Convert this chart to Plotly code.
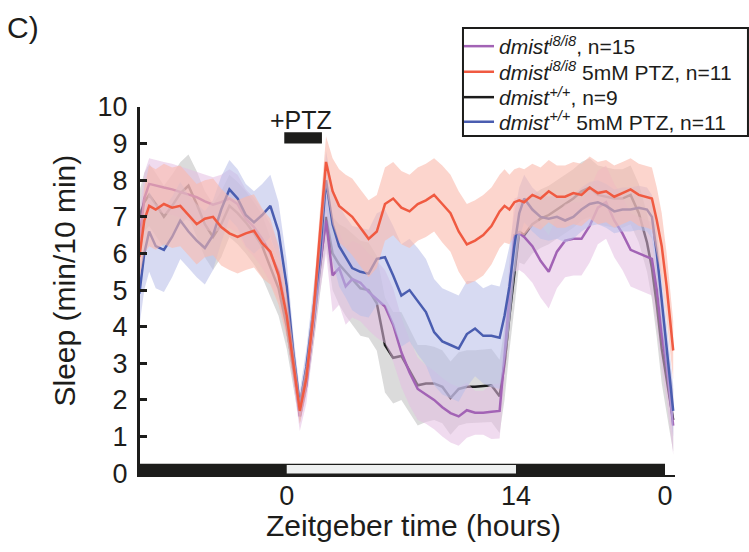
import plotly.graph_objects as go

# Zeitgeber time (hours) of each sample; negative values are the preceding night
hours = [
    -9.0, -8.7, -8.4, -8.0, -7.5, -7.0, -6.5, -6.0, -5.5, -5.0,
    -4.5, -4.0, -3.5, -3.0, -2.5, -2.0, -1.5, -1.0, -0.5, 0.0,
    0.4, 0.8, 1.2, 1.6, 2.0, 2.4, 2.8, 3.2, 3.6, 4.0,
    4.5, 5.0, 5.5, 6.0, 6.5, 7.0, 7.5, 8.0, 8.5, 9.0,
    9.5, 10.0, 10.5, 11.0, 11.5, 12.0, 12.5, 13.0, 13.3, 13.6,
    13.9, 14.2, 14.5, 15.0, 15.5, 16.0, 16.5, 17.0, 17.5, 18.0,
    18.5, 19.0, 19.5, 20.0, 20.5, 21.0, 21.5, 22.0, 22.3, 22.6,
    22.9, 23.2, 23.4, 23.6,
]

# Mean sleep (min/10 min) per genotype / treatment
sleep_mut = [
    6.3, 7.5, 7.9, 7.85, 7.8, 7.75, 7.68, 7.6, 7.54, 7.42,
    7.33, 7.4, 7.5, 7.35, 6.95, 6.72, 6.4, 6.0, 5.5, 4.4,
    2.9, 1.55, 2.4, 4.0, 5.6, 6.9, 5.4, 5.6, 5.1, 5.3,
    5.2, 4.95, 4.75, 4.55, 4.05, 3.3, 2.75, 2.3, 2.15, 2.0,
    1.8, 1.64, 1.55, 1.72, 1.65, 1.65, 1.68, 1.7, 3.2, 4.9,
    6.5, 6.55, 6.45, 6.2, 5.8, 5.5, 6.05, 6.35, 6.4, 6.4,
    6.75, 7.25, 7.4, 6.9, 6.55, 6.1, 6.0, 5.9, 5.85, 5.0,
    3.8, 2.9, 2.1, 1.3,
]
sleep_mut_ptz = [
    5.9, 6.9, 7.3, 7.2, 7.35, 7.25, 7.3, 7.05, 6.8, 6.95,
    7.0, 6.72, 6.55, 6.45, 6.55, 6.62, 6.28, 6.05, 5.4, 4.3,
    3.0, 1.7, 2.6, 4.2, 6.4, 8.5, 7.7, 7.3, 7.15, 7.0,
    6.7, 6.4, 6.6, 7.35, 7.5, 7.25, 7.15, 7.35, 7.45, 7.6,
    7.35, 7.1, 6.6, 6.25, 6.35, 6.5, 6.75, 7.15, 7.3, 7.2,
    7.4, 7.45, 7.4, 7.6, 7.5, 7.7, 7.55, 7.55, 7.65, 7.6,
    7.8, 7.65, 7.7, 7.55, 7.65, 7.75, 7.6, 7.55, 7.5, 6.9,
    6.2, 5.1, 4.3, 3.35,
]
sleep_wt = [
    7.0, 7.4, 7.6, 7.35, 7.0, 7.3, 7.64, 7.85, 7.35, 6.8,
    6.45, 6.8, 7.3, 7.1, 6.85, 6.55, 6.2, 5.65, 5.05, 4.0,
    2.8, 1.7, 2.6, 3.9, 5.5, 7.0, 6.0, 5.7, 5.5, 5.3,
    5.05, 5.0, 4.64, 3.5, 3.15, 3.2, 2.8, 2.4, 2.45, 2.45,
    2.36, 2.05, 2.3, 2.36, 2.36, 2.38, 2.4, 2.1, 3.0, 4.3,
    5.4, 6.6, 6.5, 6.8, 6.95, 7.05, 7.2, 7.35, 7.5, 7.7,
    7.8, 7.6, 7.55, 7.5, 7.5, 7.6, 7.1, 6.3, 5.6, 4.6,
    3.4, 2.6, 2.0, 1.45,
]
sleep_wt_ptz = [
    4.9, 6.0, 6.6, 6.2, 6.1, 6.45, 6.9, 6.6, 6.35, 6.15,
    6.5, 7.2, 7.75, 7.5, 7.05, 6.85, 7.05, 7.3, 6.6, 5.1,
    3.3, 1.85, 2.9, 4.3, 5.8, 8.0, 6.8, 6.2, 5.9, 5.6,
    5.5, 5.45, 5.85, 5.9, 5.4, 4.85, 5.0, 4.7, 4.4, 3.85,
    3.6, 3.5, 3.4, 3.8, 3.95, 3.75, 3.75, 3.7, 4.3, 5.1,
    6.2, 7.1, 7.5, 7.2, 7.0, 6.95, 7.0, 6.9, 7.0, 7.2,
    7.35, 7.4, 7.3, 7.15, 7.2, 7.2, 7.25, 7.2, 7.0, 6.0,
    4.7, 3.4, 2.5, 1.7,
]

# Standard error of the mean for each group
sem_mut = [
    0.7, 0.7, 0.7, 0.7, 0.7, 0.7, 0.7, 0.7, 0.7, 0.75,
    0.75, 0.75, 0.8, 0.8, 0.8, 0.8, 0.8, 0.8, 0.75, 0.65,
    0.5, 0.4, 0.5, 0.6, 0.75, 0.9, 1.0, 1.0, 1.05, 1.05,
    1.05, 1.05, 1.05, 1.0, 1.0, 0.95, 0.9, 0.85, 0.8, 0.8,
    0.8, 0.8, 0.8, 0.75, 0.6, 0.6, 0.75, 0.75, 0.8, 0.9,
    1.0, 1.0, 1.0, 1.0, 1.0, 1.0, 1.0, 1.0, 1.0, 1.0,
    1.0, 1.0, 1.0, 1.0, 1.0, 1.0, 1.0, 1.0, 1.0, 1.0,
    0.95, 0.9, 0.85, 0.8,
]
sem_mut_ptz = [
    0.6, 0.9, 1.1, 1.1, 1.1, 1.1, 1.1, 1.1, 1.1, 1.05,
    1.05, 1.05, 1.0, 1.0, 1.0, 1.0, 0.95, 0.9, 0.8, 0.6,
    0.45, 0.35, 0.4, 0.5, 0.6, 0.7, 0.9, 1.0, 1.0, 1.05,
    1.05, 1.05, 1.0, 1.0, 1.0, 1.0, 1.0, 1.0, 1.0, 1.0,
    1.05, 1.05, 1.1, 1.1, 1.1, 1.1, 1.05, 1.0, 1.0, 0.95,
    0.9, 0.9, 0.9, 0.85, 0.85, 0.85, 0.85, 0.85, 0.85, 0.85,
    0.85, 0.85, 0.85, 0.85, 0.85, 0.85, 0.85, 0.85, 0.85, 0.9,
    0.9, 0.9, 0.85, 0.8,
]
sem_wt = [
    0.7, 0.8, 0.85, 0.85, 0.85, 0.85, 0.85, 0.85, 0.9, 0.9,
    0.9, 0.9, 0.85, 0.85, 0.85, 0.85, 0.85, 0.8, 0.75, 0.6,
    0.45, 0.35, 0.45, 0.55, 0.7, 0.8, 1.0, 1.1, 1.2, 1.25,
    1.3, 1.3, 1.3, 1.3, 1.25, 1.2, 1.15, 1.1, 1.05, 1.0,
    1.0, 1.0, 1.0, 1.0, 1.0, 1.0, 1.0, 1.0, 1.0, 0.95,
    0.9, 0.85, 0.8, 0.8, 0.8, 0.8, 0.8, 0.8, 0.8, 0.8,
    0.8, 0.8, 0.8, 0.8, 0.8, 0.8, 0.8, 0.8, 0.85, 0.9,
    0.95, 0.95, 0.9, 0.85,
]
sem_wt_ptz = [
    0.9, 1.0, 1.1, 1.15, 1.15, 1.1, 1.05, 1.0, 1.0, 1.0,
    0.95, 0.9, 0.8, 0.8, 0.85, 0.85, 0.85, 0.85, 0.8, 0.7,
    0.5, 0.4, 0.5, 0.6, 0.7, 0.8, 1.0, 1.1, 1.1, 1.15,
    1.2, 1.2, 1.25, 1.3, 1.35, 1.4, 1.4, 1.45, 1.45, 1.45,
    1.45, 1.45, 1.45, 1.45, 1.3, 1.3, 1.4, 1.4, 1.3, 1.1,
    0.9, 0.7, 0.65, 0.6, 0.6, 0.6, 0.6, 0.6, 0.6, 0.6,
    0.6, 0.6, 0.6, 0.6, 0.6, 0.6, 0.6, 0.6, 0.6, 0.65,
    0.7, 0.7, 0.7, 0.7,
]

# Light schedule (ZT hours) and drug exposure window
lights_on, lights_off, record_end = 0.0, 14.0, 23.1
ptz_start, ptz_end = -0.15, 2.15

FONT = "Liberation Sans, Arial, Helvetica, sans-serif"
INK = "#1d1d1b"

# drawn bottom to top; each group gets its own one-row legend so the rows sit tight
groups = [
    dict(name="<i>dmist</i><sup><i>+/+</i></sup>, n=9",
         y=sleep_wt, sem=sem_wt, line="#1c1c1c",
         band="rgba(190,190,190,0.55)", legend="legend3"),
    dict(name="<i>dmist</i><sup><i>i8/i8</i></sup>, n=15",
         y=sleep_mut, sem=sem_mut, line="#a263b5",
         band="rgba(228,190,225,0.55)", legend="legend"),
    dict(name="<i>dmist</i><sup><i>+/+</i></sup> 5mM PTZ, n=11",
         y=sleep_wt_ptz, sem=sem_wt_ptz, line="#4a5db0",
         band="rgba(185,190,232,0.57)", legend="legend4"),
    dict(name="<i>dmist</i><sup><i>i8/i8</i></sup> 5mM PTZ, n=11",
         y=sleep_mut_ptz, sem=sem_mut_ptz, line="#f05a41",
         band="rgba(250,185,172,0.6)", legend="legend2"),
]

fig = go.Figure()
for g in groups:
    upper = [m + s for m, s in zip(g["y"], g["sem"])]
    lower = [m - s for m, s in zip(g["y"], g["sem"])]
    fig.add_trace(go.Scatter(
        x=hours + hours[::-1], y=upper + lower[::-1],
        fill="toself", fillcolor=g["band"], line=dict(width=0),
        mode="lines", hoverinfo="skip", showlegend=False,
    ))
    fig.add_trace(go.Scatter(
        x=hours, y=g["y"], mode="lines", name=g["name"], legend=g["legend"],
        line=dict(color=g["line"], width=2.5),
    ))

# light/dark bar along the time axis
fig.add_shape(type="rect", xref="x", yref="y", x0=hours[0], x1=record_end,
              y0=-0.05, y1=0.26, fillcolor=INK, line=dict(width=0), layer="above")
fig.add_shape(type="rect", xref="x", yref="y", x0=lights_on, x1=lights_off,
              y0=-0.01, y1=0.22, fillcolor="#eef0f0", line=dict(width=0), layer="above")
# PTZ exposure marker
fig.add_shape(type="rect", xref="x", yref="y", x0=ptz_start, x1=ptz_end,
              y0=9.0, y1=9.31, fillcolor=INK, line=dict(width=0), layer="above")
# frame around the legend rows
fig.add_shape(type="rect", xref="paper", yref="paper", x0=0.6037, x1=1.1364,
              y0=0.9212, y1=1.2147, fillcolor="white",
              line=dict(color=INK, width=2), layer="above")

fig.add_annotation(x=(ptz_start + ptz_end) / 2 - 0.1, y=9.64, xref="x", yref="y",
                   text="+PTZ", showarrow=False, xanchor="center", yanchor="middle",
                   font=dict(family=FONT, size=25, color=INK))
fig.add_annotation(x=-0.2187, y=1.2147, xref="paper", yref="paper", text="C)",
                   showarrow=False, xanchor="center", yanchor="middle",
                   font=dict(family=FONT, size=30, color=INK))
fig.add_annotation(x=-0.1402, y=0.5285, xref="paper", yref="paper",
                   text="Sleep (min/10 min)", textangle=-90, showarrow=False,
                   xanchor="center", yanchor="middle",
                   font=dict(family=FONT, size=30, color=INK))
fig.add_annotation(x=0.5103, y=-0.1359, xref="paper", yref="paper",
                   text="Zeitgeber time (hours)", showarrow=False,
                   xanchor="center", yanchor="middle",
                   font=dict(family=FONT, size=30, color=INK))


def legend_row(y):
    return dict(
        x=0.5963, y=y, xanchor="left", yanchor="middle",
        bgcolor="rgba(0,0,0,0)", borderwidth=0,
        font=dict(family=FONT, size=21, color=INK), itemwidth=30,
    )


fig.update_layout(
    width=749, height=552,
    margin=dict(l=140, r=74, t=107, b=77, autoexpand=False),
    paper_bgcolor="white", plot_bgcolor="white",
    font=dict(family=FONT, color=INK),
    showlegend=True,
    legend=legend_row(1.1644),
    legend2=legend_row(1.0951),
    legend3=legend_row(1.0258),
    legend4=legend_row(0.9592),
    xaxis=dict(
        range=[-8.96, 23.71], showgrid=False, zeroline=False,
        showline=True, linewidth=1.5, linecolor=INK,
        tickvals=[lights_on, lights_off, record_end], ticktext=["0", "14", "0"],
        ticks="", ticklabelstandoff=-4,
        tickfont=dict(family=FONT, size=27, color=INK),
    ),
    yaxis=dict(
        range=[-0.05, 10], showgrid=False, zeroline=False,
        showline=True, linewidth=3, linecolor=INK,
        tickvals=list(range(0, 11)), ticks="inside", ticklen=7, tickwidth=3,
        tickcolor=INK, ticklabelstandoff=4,
        tickfont=dict(family=FONT, size=27, color=INK),
    ),
)

fig.write_html("out.html")
